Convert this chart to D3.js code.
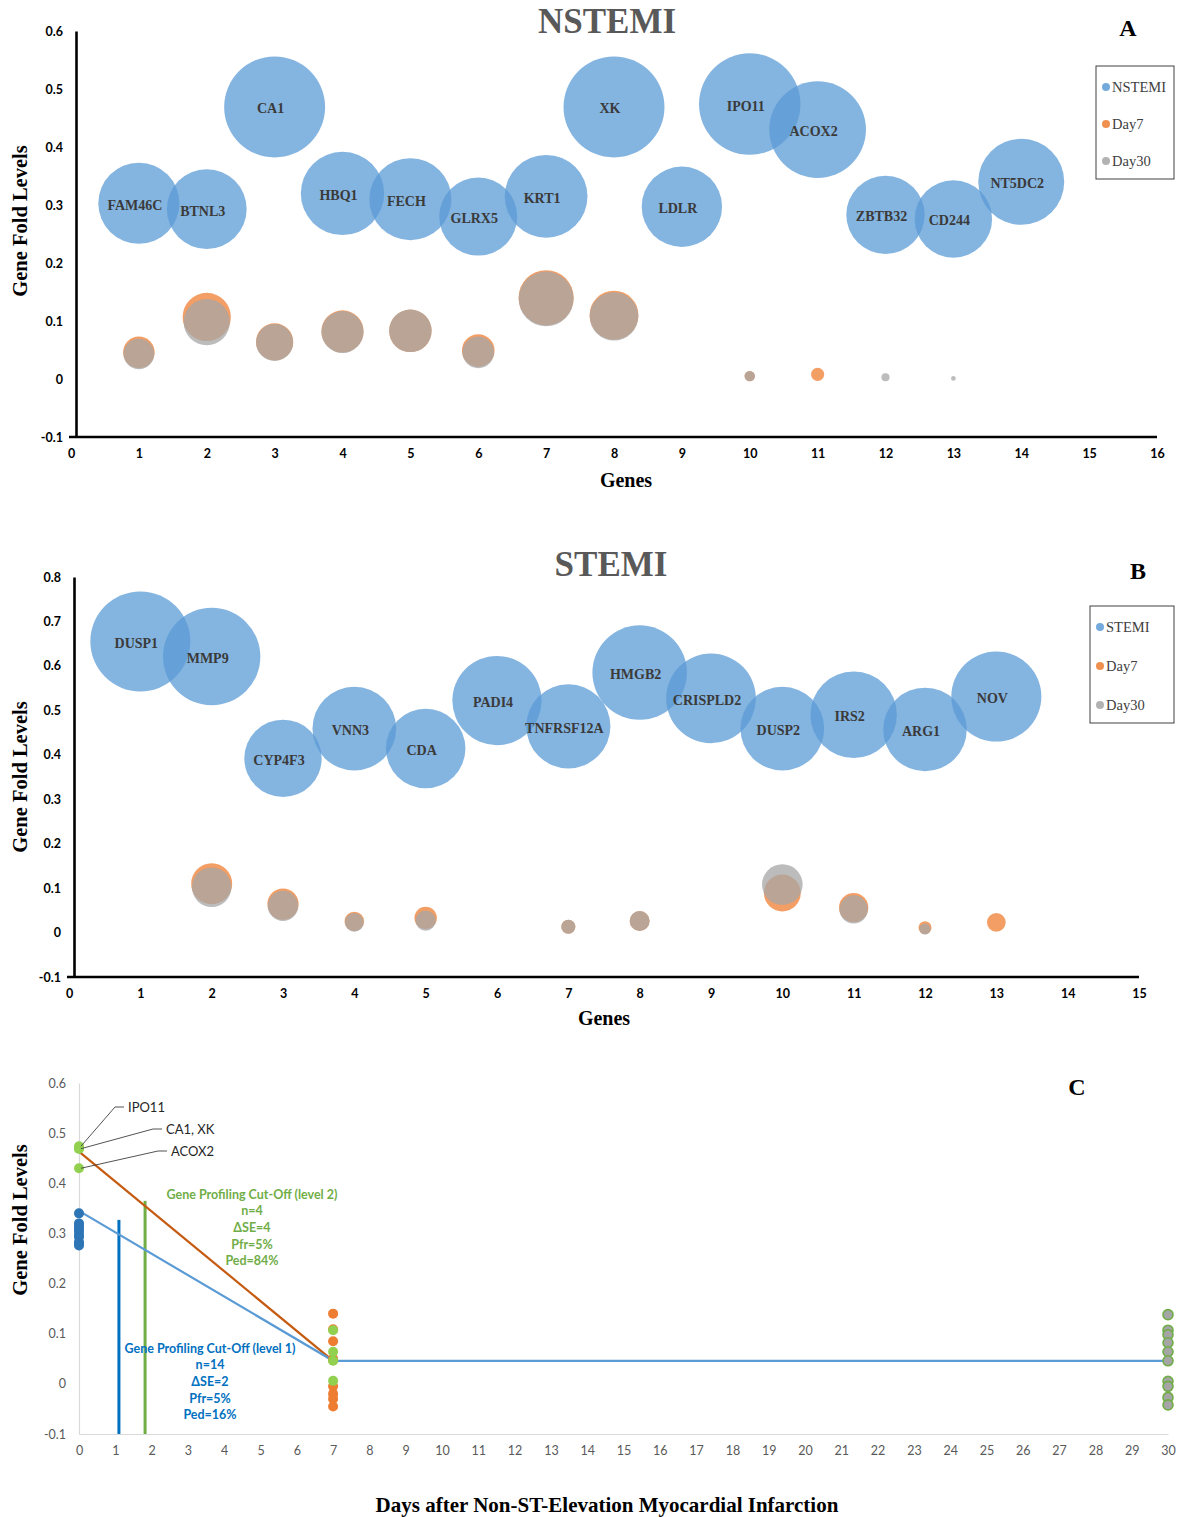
<!DOCTYPE html>
<html><head><meta charset="utf-8">
<script src="https://cdn.jsdelivr.net/npm/d3@7"></script>
<style>body{margin:0;background:#fff}</style>
</head><body><svg id="chart" width="1186" height="1517"></svg>
<script>
// ---------------- DATA ----------------
const nstemiGenes = ["FAM46C","BTNL3","CA1","HBQ1","FECH","GLRX5","KRT1","XK","LDLR","IPO11","ACOX2","ZBTB32","CD244","NT5DC2"];
const nstemiX = [1,2,3,4,5,6,7,8,9,10,11,12,13,14];
const nstemiLevels = [0.303,0.293,0.469,0.32,0.31,0.28,0.315,0.469,0.297,0.474,0.43,0.283,0.276,0.34];
const nstemiDay7 = [0.046,0.107,0.064,0.082,0.083,0.049,0.14,0.11,null,0.005,0.008,null,null,null];
const nstemiDay30 = [0.043,0.098,0.063,0.081,0.083,0.046,0.138,0.108,null,0.005,null,0.003,0.001,null];
const nstemiXTicks = [0,1,2,3,4,5,6,7,8,9,10,11,12,13,14,15,16];
const nstemiYTicks = [-0.1,0,0.1,0.2,0.3,0.4,0.5,0.6];

const stemiGenes = ["DUSP1","MMP9","CYP4F3","VNN3","CDA","PADI4","TNFRSF12A","HMGB2","CRISPLD2","DUSP2","IRS2","ARG1","NOV"];
const stemiX = [1,2,3,4,5,6,7,8,9,10,11,12,13];
const stemiLevels = [0.655,0.621,0.392,0.459,0.414,0.522,0.464,0.585,0.527,0.459,0.49,0.457,0.531];
const stemiDay7 = [null,0.11,0.064,0.025,0.033,null,0.013,0.026,null,0.089,0.056,0.011,0.023];
const stemiDay30 = [null,0.102,0.06,0.023,0.027,null,0.013,0.026,null,0.108,0.052,0.008,null];
const stemiXTicks = [0,1,2,3,4,5,6,7,8,9,10,11,12,13,14,15];
const stemiYTicks = [-0.1,0,0.1,0.2,0.3,0.4,0.5,0.6,0.7,0.8];

// Panel C
const daysXTicks = d3.range(0,31);
const daysYTicks = [-0.1,0,0.1,0.2,0.3,0.4,0.5,0.6];
const day0Level2 = [0.474,0.469,0.469,0.43];
const day0Level1 = [0.34,0.32,0.315,0.31,0.304,0.297,0.293,0.283,0.28,0.276];
const day7Level1 = [0.14,0.109,0.085,0.05,0.047,-0.005,-0.02,-0.03,-0.045];
const day7Level2 = [0.107,0.064,0.046,0.006];
const day30All = [0.138,0.107,0.098,0.082,0.064,0.046,0.005,-0.005,-0.027,-0.042];
const trendLevel2 = [[0,0.463],[7,0.046]];
const trendLevel1 = [[0,0.345],[7,0.046],[30,0.046]];
const cutLevel1 = {day:1.1, top:0.327};
const cutLevel2 = {day:1.82, top:0.365};
const callouts = [{text:"IPO11", value:0.474},{text:"CA1, XK", value:0.469},{text:"ACOX2", value:0.43}];
const level2Text = ["Gene Profiling Cut-Off (level 2)","n=4","\u0394SE=4","Pfr=5%","Ped=84%"];
const level1Text = ["Gene Profiling Cut-Off (level 1)","n=14","\u0394SE=2","Pfr=5%","Ped=16%"];

// ---------------- DRAW ----------------
const svg = d3.select("#chart");
const fmt = d => String(+d.toFixed(1));
const serif = "'Liberation Serif','Times New Roman',serif";
const sans = "Lato,'Open Sans',sans-serif";
const BLUE = "#5b9bd5", ORANGE = "#ed7d31", GRAY = "#a5a5a5";

function bubblePanel(o) {
  const g = svg.append("g");
  const x = d3.scaleLinear().domain(o.xDomain).range(o.xRange);
  const y = d3.scaleLinear().domain(o.yDomain).range(o.yRange);
  const all = o.levels.concat(o.day7, o.day30).filter(v => v != null);
  const r = d3.scaleSqrt().domain([0, d3.max(all)]).range([0, 0.125 * (o.yRange[0] - o.yRange[1])]);

  const yAx = g.append("g").attr("transform", `translate(${x(0) + 5},0)`)
    .call(d3.axisLeft(y).tickValues(o.yTicks).tickSize(0).tickPadding(13).tickFormat(fmt));
  const xAx = g.append("g").attr("transform", `translate(0,${y(o.yDomain[0])})`)
    .call(d3.axisBottom(x).tickValues(o.xTicks).tickSize(0).tickPadding(12).tickFormat(fmt));
  xAx.select(".domain").attr("d", `M${x(0) - 2},0H${x(o.xDomain[1])}`);
  [yAx, xAx].forEach(a => {
    a.select(".domain").attr("stroke", "#000").attr("stroke-width", 2.6);
    a.selectAll("text").attr("font-family", sans).attr("font-weight", "bold").attr("font-size", 12.5).attr("fill", "#000");
  });

  const series = [[o.levels, BLUE], [o.day7, ORANGE], [o.day30, GRAY]];
  series.forEach(([vals, col]) => {
    g.append("g").selectAll("circle").data(vals.map((v, i) => ({v, xv: o.xs[i]})).filter(d => d.v != null))
      .join("circle")
      .attr("cx", d => x(d.xv)).attr("cy", d => y(d.v)).attr("r", d => r(d.v))
      .attr("fill", col).attr("fill-opacity", 0.75);
  });
  g.append("g").selectAll("text").data(o.genes).join("text")
    .attr("x", (d, i) => x(o.xs[i]) - 4).attr("y", (d, i) => y(o.levels[i]) + 2)
    .attr("text-anchor", "middle").attr("dominant-baseline", "central")
    .attr("font-family", serif).attr("font-weight", "bold").attr("font-size", 14).attr("fill", "#3a3a3a")
    .text(d => d);

  g.append("text").attr("x", o.titleX).attr("y", o.titleY).attr("text-anchor", "middle").attr("dominant-baseline", "central")
    .attr("font-family", serif).attr("font-weight", "bold").attr("font-size", 35).attr("fill", "#595959").text(o.title);
  g.append("text").attr("x", o.letterX).attr("y", o.letterY).attr("text-anchor", "middle").attr("dominant-baseline", "central")
    .attr("font-family", serif).attr("font-weight", "bold").attr("font-size", 24).attr("fill", "#000").text(o.letter);
  g.append("text").attr("x", o.xTitleX).attr("y", o.xTitleY).attr("text-anchor", "middle").attr("dominant-baseline", "central")
    .attr("font-family", serif).attr("font-weight", "bold").attr("font-size", 20).attr("fill", "#000").text("Genes");
  g.append("text").attr("transform", `translate(20,${o.yTitleY}) rotate(-90)`).attr("text-anchor", "middle").attr("dominant-baseline", "central")
    .attr("font-family", serif).attr("font-weight", "bold").attr("font-size", 20.5).attr("fill", "#000").text("Gene Fold Levels");

  const lg = g.append("g");
  lg.append("rect").attr("x", o.legend.x).attr("y", o.legend.y).attr("width", o.legend.w).attr("height", o.legend.h)
    .attr("fill", "#fff").attr("stroke", "#404040").attr("stroke-width", 1);
  [[o.title, BLUE], ["Day7", ORANGE], ["Day30", GRAY]].forEach(([t, c], i) => {
    const yy = o.legend.y + 21 + i * o.legend.step;
    lg.append("circle").attr("cx", o.legend.x + 10).attr("cy", yy).attr("r", 4).attr("fill", c).attr("fill-opacity", 0.85);
    lg.append("text").attr("x", o.legend.x + 16).attr("y", yy).attr("dominant-baseline", "central")
      .attr("font-family", serif).attr("font-size", 14.5).attr("fill", "#404040").text(t);
  });
}

bubblePanel({
  genes: nstemiGenes, xs: nstemiX, levels: nstemiLevels, day7: nstemiDay7, day30: nstemiDay30,
  xTicks: nstemiXTicks, yTicks: nstemiYTicks,
  xDomain: [0, 16], xRange: [71, 1157], yDomain: [-0.1, 0.6], yRange: [437, 31],
  title: "NSTEMI", titleX: 607, titleY: 21, letter: "A", letterX: 1128, letterY: 28,
  xTitleX: 626, xTitleY: 480, yTitleY: 221,
  legend: {x: 1096, y: 66, w: 78, h: 113, step: 37}
});
bubblePanel({
  genes: stemiGenes, xs: stemiX, levels: stemiLevels, day7: stemiDay7, day30: stemiDay30,
  xTicks: stemiXTicks, yTicks: stemiYTicks,
  xDomain: [0, 15], xRange: [69, 1139], yDomain: [-0.1, 0.8], yRange: [977, 577],
  title: "STEMI", titleX: 611, titleY: 564, letter: "B", letterX: 1138, letterY: 571,
  xTitleX: 604, xTitleY: 1018, yTitleY: 777,
  legend: {x: 1090, y: 606, w: 84, h: 117, step: 39}
});

// ---------------- PANEL C ----------------
(function () {
  const g = svg.append("g");
  const x = d3.scaleLinear().domain([0, 30]).range([79, 1168]);
  const y = d3.scaleLinear().domain([-0.1, 0.6]).range([1434, 1083]);
  const yAx = g.append("g").attr("transform", `translate(${x(0)},0)`)
    .call(d3.axisLeft(y).tickValues(daysYTicks).tickSize(0).tickPadding(13).tickFormat(fmt));
  const xAx = g.append("g").attr("transform", `translate(0,${y(-0.1)})`)
    .call(d3.axisBottom(x).tickValues(daysXTicks).tickSize(0).tickPadding(12).tickFormat(d3.format("d")));
  [yAx, xAx].forEach(a => {
    a.select(".domain").attr("stroke", "#d9d9d9").attr("stroke-width", 1.2);
    a.selectAll("text").attr("font-family", sans).attr("font-size", 12.5).attr("fill", "#595959");
  });

  [[cutLevel1, "#0070c0"], [cutLevel2, "#70ad47"]].forEach(([c, col]) => {
    g.append("line").attr("x1", x(c.day)).attr("x2", x(c.day)).attr("y1", y(-0.1)).attr("y2", y(c.top))
      .attr("stroke", col).attr("stroke-width", 3);
  });

  const line = d3.line().x(d => x(d[0])).y(d => y(d[1]));
  g.append("path").attr("d", line(trendLevel2)).attr("fill", "none").attr("stroke", "#c55a11").attr("stroke-width", 2.2);
  g.append("path").attr("d", line(trendLevel1)).attr("fill", "none").attr("stroke", BLUE).attr("stroke-width", 2.2);

  function markers(vals, day, fill, stroke) {
    g.append("g").selectAll("circle").data(vals).join("circle")
      .attr("cx", x(day)).attr("cy", d => y(d)).attr("r", 5)
      .attr("fill", fill).attr("stroke", stroke || "none").attr("stroke-width", 1.6);
  }
  markers(day0Level1, 0, "#2e75b6");
  markers(day0Level2, 0, "#92d050");
  markers(day7Level1, 7, ORANGE);
  markers(day7Level2, 7, "#92d050");
  markers(day30All, 30, GRAY, "#70ad47");

  const elbow = [[34, 1107], [72, 1129], [77, 1151]];
  callouts.forEach((c, i) => {
    const sx = x(0) + 2, sy = y(c.value);
    const ex = sx + elbow[i][0], ey = elbow[i][1];
    g.append("path").attr("d", `M${sx},${sy}L${ex},${ey}L${ex + 9},${ey}`)
      .attr("fill", "none").attr("stroke", "#404040").attr("stroke-width", 0.9);
    g.append("text").attr("x", ex + 13).attr("y", ey).attr("dominant-baseline", "central")
      .attr("font-family", sans).attr("font-size", 13).attr("fill", "#262626").text(c.text);
  });

  function block(lines, cx, cy, col) {
    g.append("g").selectAll("text").data(lines).join("text")
      .attr("x", cx).attr("y", (d, i) => cy + i * 16.7).attr("text-anchor", "middle").attr("dominant-baseline", "central")
      .attr("font-family", sans).attr("font-weight", "bold").attr("font-size", 12.5).attr("fill", col).text(d => d);
  }
  block(level2Text, 252, 1194, "#70ad47");
  block(level1Text, 210, 1348, "#0070c0");

  g.append("text").attr("x", 1077).attr("y", 1087).attr("text-anchor", "middle").attr("dominant-baseline", "central")
    .attr("font-family", serif).attr("font-weight", "bold").attr("font-size", 24).attr("fill", "#000").text("C");
  g.append("text").attr("transform", "translate(20,1220) rotate(-90)").attr("text-anchor", "middle").attr("dominant-baseline", "central")
    .attr("font-family", serif).attr("font-weight", "bold").attr("font-size", 20.5).attr("fill", "#000").text("Gene Fold Levels");
  g.append("text").attr("x", 607).attr("y", 1505).attr("text-anchor", "middle").attr("dominant-baseline", "central")
    .attr("font-family", serif).attr("font-weight", "bold").attr("font-size", 21).attr("fill", "#000")
    .text("Days after Non-ST-Elevation Myocardial Infarction");
})();
</script></body></html>
